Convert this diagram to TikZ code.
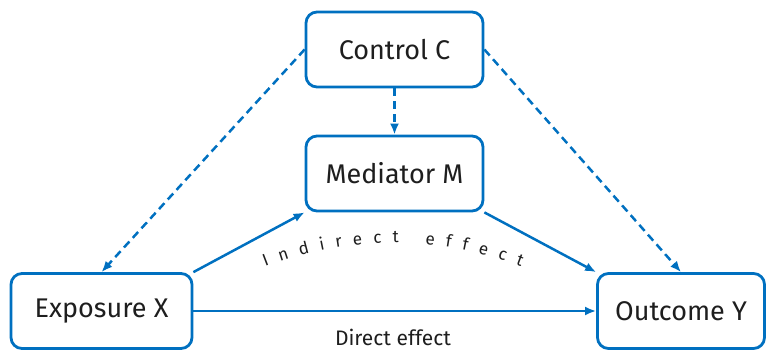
\documentclass[tikz,border=0pt]{standalone}
\usepackage{fontspec}
\setmainfont{Fira Sans}
\usetikzlibrary{arrows.meta,decorations.text}
\definecolor{pathblue}{HTML}{0070C0}
\definecolor{labelgray}{HTML}{1E1E1E}
\tikzset{
  varbox/.style={draw=pathblue, line width=2.8pt, rounded corners=11pt, fill=white,
    text=labelgray, font=\fontsize{27}{32}\selectfont, inner sep=0pt,
    minimum width=177pt, minimum height=75pt},
  effect/.style={draw=pathblue, line width=2.5pt, -{Latex[length=11pt,width=9pt]}},
  confound/.style={effect, dash pattern=on 8pt off 5pt},
}
\begin{document}
\begin{tikzpicture}[x=1pt,y=-1pt]
  \useasboundingbox (0,0) rectangle (767,351);

  % Variable boxes
  \node [varbox] (control) at (394.5,49.5) {Control C};%
  \node [varbox] (mediator) at (394.5,173.5) {Mediator M};%
  \node [varbox, minimum width=181pt] (exposure) at (101.5,311) {Exposure X};%
  \node [varbox, minimum width=167pt] (outcome) at (681,311) {Outcome Y};%

  % Confounding paths from C
  \draw [confound] (control.south) -- (mediator.north);%
  \draw [confound] (control.west) -- (exposure.north);%
  \draw [confound] (control.east) -- (outcome.north);%

  % Indirect path X -> M -> Y
  \draw [effect] (exposure.north east) -- (mediator.south west);%
  \draw [effect] (mediator.south east) -- (outcome.north west);%

  % Direct path X -> Y
  \draw [effect] (exposure.east) -- (outcome.west);%

  % Effect labels
  \node [text=labelgray, inner sep=0pt, font=\fontsize{21}{25}\selectfont] (direct) at (393,337) {Direct effect};%
  \path [decorate, decoration={text along path, text align={fit to path}, text color=labelgray,
    text={|\fontsize{17}{20}\selectfont|Indirect effect}}]
    (265,267) .. controls (347.4,234.9) and (438.6,234.9) .. (521,267);%
\end{tikzpicture}
\end{document}
